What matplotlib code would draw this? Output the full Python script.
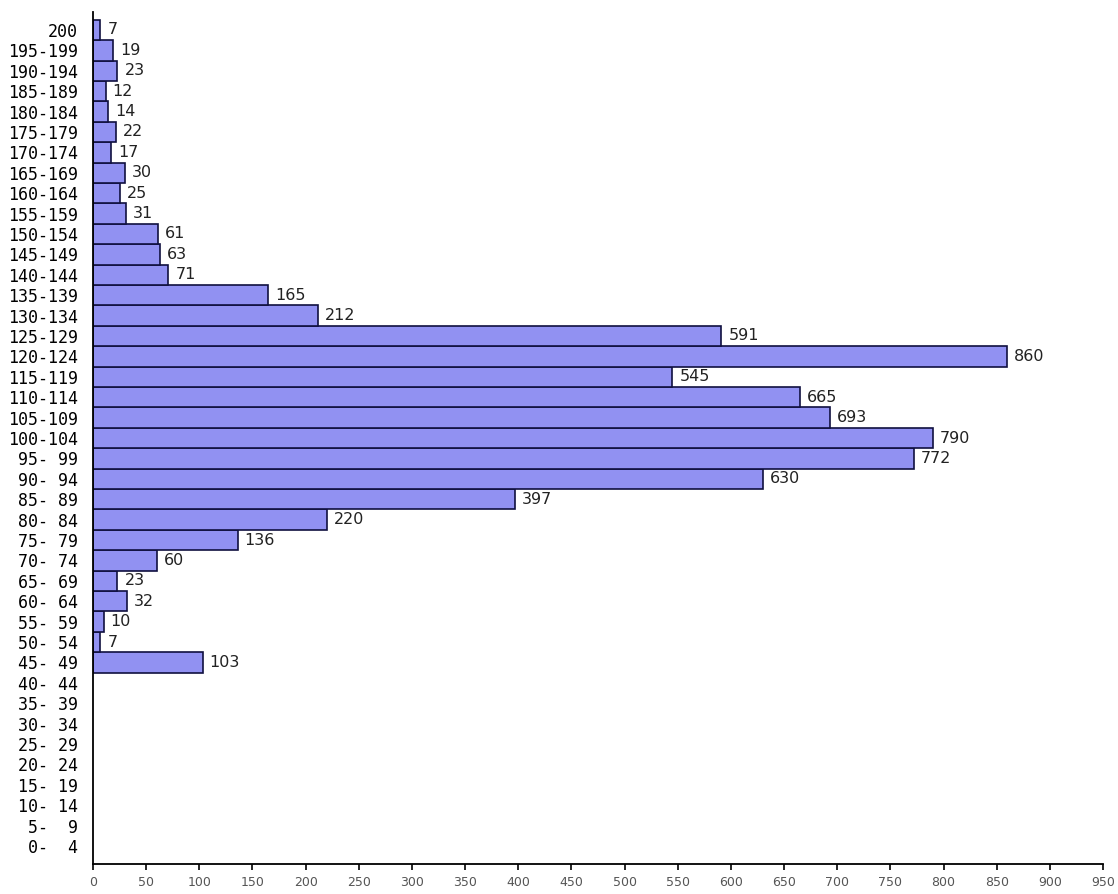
import matplotlib
matplotlib.use("Agg")
import matplotlib.pyplot as plt

# Классы (снизу вверх) и частоты
labels = ["0-  4", "5-  9", "10- 14", "15- 19", "20- 24", "25- 29", "30- 34",
          "35- 39", "40- 44", "45- 49", "50- 54", "55- 59", "60- 64", "65- 69",
          "70- 74", "75- 79", "80- 84", "85- 89", "90- 94", "95- 99",
          "100-104", "105-109", "110-114", "115-119", "120-124", "125-129",
          "130-134", "135-139", "140-144", "145-149", "150-154", "155-159",
          "160-164", "165-169", "170-174", "175-179", "180-184", "185-189",
          "190-194", "195-199", "200"]
counts = [None, None, None, None, None, None, None, None, None, 103, 7, 10,
          32, 23, 60, 136, 220, 397, 630, 772, 790, 693, 665, 545, 860, 591,
          212, 165, 71, 63, 61, 31, 25, 30, 17, 22, 14, 12, 23, 19, 7]
x_ticks = list(range(0, 951, 50))

fig = plt.figure(figsize=(11.18, 8.94), dpi=100)
ax = fig.add_axes([93 / 1118, 30 / 894, 1010 / 1118, 852 / 894])

pos = list(range(len(labels)))
for i, c in zip(pos, counts):
    if c is None:
        continue
    ax.barh(i, c, height=1.0, color="#9191f2", edgecolor="#101040", linewidth=1.2)
    ax.annotate(str(c), (c, i), xytext=(5, 0), textcoords="offset points",
                va="center", ha="left", fontsize=11.5, color="#222222")

ax.set_xlim(0, 950)
ax.set_ylim(-0.88, 40.88)
ax.set_yticks(pos)
ax.set_yticklabels(labels, fontfamily="DejaVu Sans Mono", fontsize=12)
ax.tick_params(axis="y", length=0, pad=11)
ax.set_xticks(x_ticks)
ax.tick_params(axis="x", length=4, width=1.2, labelsize=9,
               labelcolor="#555555", pad=5)
ax.spines["top"].set_visible(False)
ax.spines["right"].set_visible(False)
ax.spines["left"].set_linewidth(1.3)
ax.spines["bottom"].set_linewidth(1.3)

fig.savefig("out.png", dpi=100)
